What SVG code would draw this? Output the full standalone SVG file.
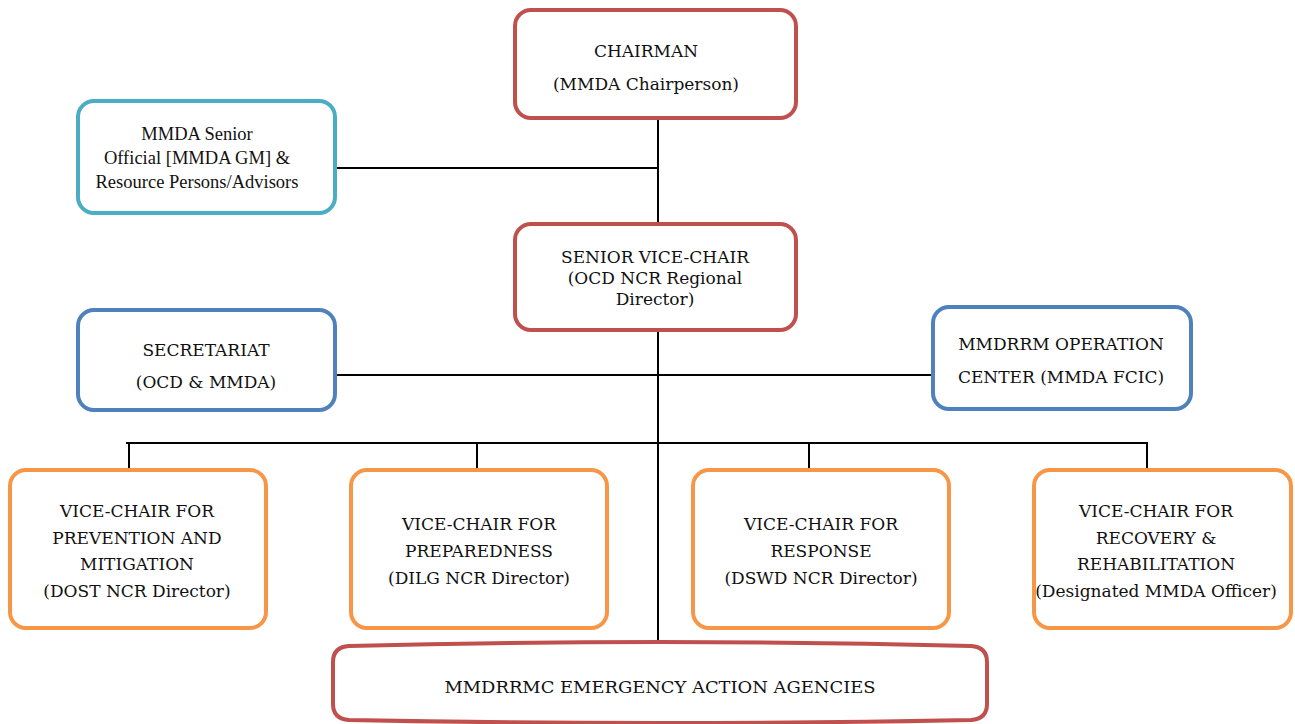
<svg xmlns="http://www.w3.org/2000/svg" width="1295" height="724" viewBox="0 0 1295 724">
<style>
.box{fill:#fff;stroke-width:4}
.red{stroke:#C0504D}
.teal{stroke:#4BACC6}
.blue{stroke:#4F81BD}
.orange{stroke:#F79646}
.t{font-family:"DejaVu Serif","Liberation Serif",serif;font-size:17px;fill:#111;text-anchor:middle}
.tt{font-family:"Liberation Serif","Times New Roman",serif;font-size:18.5px;fill:#111;text-anchor:middle}
.ln{stroke:#000;stroke-width:2;fill:none}
</style>
<rect width="1295" height="724" fill="#fff"/>
<g id="connectors">
<line class="ln" x1="658" y1="118" x2="658" y2="224"/>
<line class="ln" x1="335" y1="168" x2="658" y2="168"/>
<line class="ln" x1="658" y1="330" x2="658" y2="642"/>
<line class="ln" x1="335" y1="375" x2="933" y2="375"/>
<line class="ln" x1="126" y1="443" x2="1148" y2="443"/>
<line class="ln" x1="129" y1="443" x2="129" y2="470"/>
<line class="ln" x1="477" y1="443" x2="477" y2="470"/>
<line class="ln" x1="809" y1="443" x2="809" y2="470"/>
<line class="ln" x1="1147" y1="443" x2="1147" y2="470"/>
</g>
<g id="chairman">
<rect class="box red" x="515" y="10" width="281" height="108" rx="16"/>
<text class="t" x="646" y="57">CHAIRMAN</text>
<text class="t" x="646" y="90">(MMDA Chairperson)</text>
</g>
<g id="senior-official">
<rect class="box teal" x="78" y="101" width="257" height="112" rx="16"/>
<text class="tt" x="197" y="140">MMDA Senior</text>
<text class="tt" x="197" y="164">Official [MMDA GM] &amp;</text>
<text class="tt" x="197" y="188">Resource Persons/Advisors</text>
</g>
<g id="senior-vice-chair">
<rect class="box red" x="515" y="224" width="281" height="106" rx="16"/>
<text class="t" x="655" y="263">SENIOR VICE-CHAIR</text>
<text class="t" x="655" y="284">(OCD NCR Regional</text>
<text class="t" x="655" y="305">Director)</text>
</g>
<g id="secretariat">
<rect class="box blue" x="78" y="310" width="257" height="100" rx="16"/>
<text class="t" x="206" y="356">SECRETARIAT</text>
<text class="t" x="206" y="388">(OCD &amp; MMDA)</text>
</g>
<g id="operation-center">
<rect class="box blue" x="933" y="307" width="258" height="102" rx="16"/>
<text class="t" x="1061" y="350">MMDRRM OPERATION</text>
<text class="t" x="1061" y="383">CENTER (MMDA FCIC)</text>
</g>
<g id="vc-prevention">
<rect class="box orange" x="10" y="470" width="256" height="158" rx="16"/>
<text class="t" x="137" y="517">VICE-CHAIR FOR</text>
<text class="t" x="137" y="544">PREVENTION AND</text>
<text class="t" x="137" y="570">MITIGATION</text>
<text class="t" x="137" y="597">(DOST NCR Director)</text>
</g>
<g id="vc-preparedness">
<rect class="box orange" x="351" y="470" width="256" height="158" rx="16"/>
<text class="t" x="479" y="530">VICE-CHAIR FOR</text>
<text class="t" x="479" y="557">PREPAREDNESS</text>
<text class="t" x="479" y="584">(DILG NCR Director)</text>
</g>
<g id="vc-response">
<rect class="box orange" x="693" y="470" width="256" height="158" rx="16"/>
<text class="t" x="821" y="530">VICE-CHAIR FOR</text>
<text class="t" x="821" y="557">RESPONSE</text>
<text class="t" x="821" y="584">(DSWD NCR Director)</text>
</g>
<g id="vc-recovery">
<rect class="box orange" x="1034" y="470" width="257" height="158" rx="16"/>
<text class="t" x="1156" y="517">VICE-CHAIR FOR</text>
<text class="t" x="1156" y="544">RECOVERY &amp;</text>
<text class="t" x="1156" y="570">REHABILITATION</text>
<text class="t" x="1156" y="597">(Designated MMDA Officer)</text>
</g>
<g id="emergency-agencies">
<path class="box red" d="M349,646 Q660,638 971,646 Q987,647 987,662 L987,704 Q987,719 971,720 Q660,726 349,720 Q333,719 333,704 L333,662 Q333,647 349,646 Z"/>
<text class="t" x="660" y="693" textLength="431" lengthAdjust="spacingAndGlyphs">MMDRRMC EMERGENCY ACTION AGENCIES</text>
</g>
</svg>
